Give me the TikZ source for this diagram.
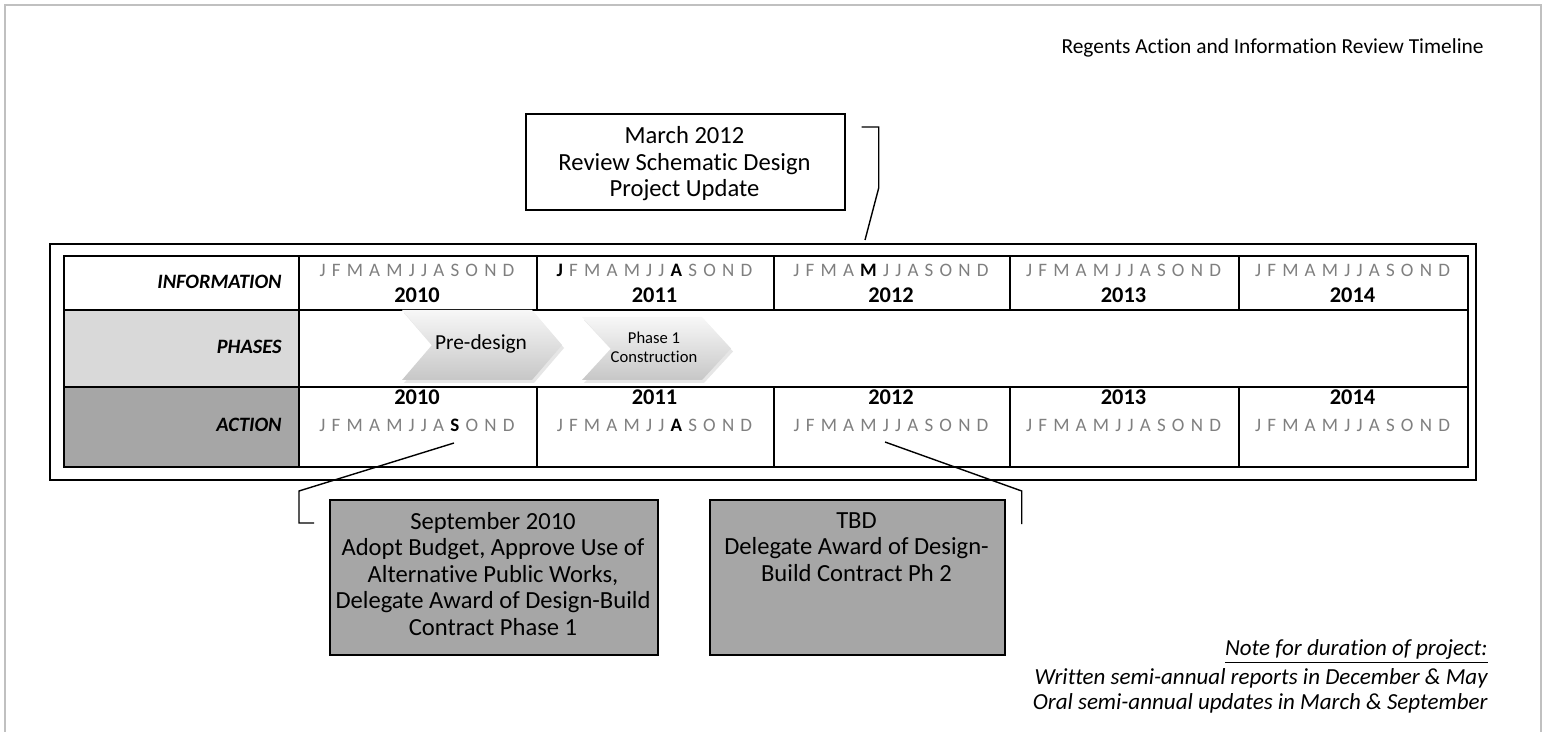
\documentclass[tikz,border=0pt]{standalone}
\usepackage{fontspec}
\setmainfont{Carlito}[Ligatures=CommonOff]
\usetikzlibrary{calc,shadows}
\definecolor{mgray}{HTML}{7F7F7F}
\definecolor{lgray}{HTML}{D9D9D9}
\definecolor{dgray}{HTML}{A6A6A6}
\definecolor{fgray}{HTML}{C0C0C0}
\newlength\mgap \setlength\mgap{3.1pt}
\newcommand\Ms{\hspace{\mgap}}
\newcommand\Mb[1]{\textcolor{black}{\bfseries #1}}
\newcommand\mrow[9]{#1\Ms#2\Ms#3\Ms#4\Ms#5\Ms#6\Ms#7\Ms#8\Ms#9\Ms\mrowii}
\newcommand\mrowii[3]{#1\Ms#2\Ms#3}
\tikzset{
  cell/.style={draw=black, line width=1pt, inner sep=0pt, anchor=north west},
  mon/.style={font=\fontsize{9.5}{11}\selectfont, text=mgray, inner sep=0pt},
  yr/.style={font=\fontsize{11.2}{13}\selectfont\bfseries, inner sep=0pt},
  lab/.style={font=\fontsize{10.2}{12}\selectfont\bfseries\itshape, anchor=east, inner sep=0pt},
  callbox/.style={draw=black, line width=0.85pt, inner sep=0pt, anchor=north west},
  calltext/.style={font=\fontsize{12.3}{13.25}\selectfont, align=center, inner sep=0pt},
  conn/.style={draw=black, line width=0.7pt},
  chev/.style={top color=black!3, bottom color=black!22, drop shadow={opacity=0.2, shadow xshift=1pt, shadow yshift=-1.5pt}},
  note/.style={font=\fontsize{11.5}{13}\selectfont\itshape, anchor=east, inner sep=0pt},
}
\begin{document}
\begin{tikzpicture}[x=0.5pt,y=-0.5pt]
\useasboundingbox (0,0) rectangle (1546,732);
% page frame
\draw[fgray, line width=1pt] (5,732) -- (5,5) -- (1541,5) -- (1541,732);
% title
\node[font=\fontsize{10.7}{12.5}\selectfont, anchor=east, inner sep=0pt] (title) at (1484,48) {Regents Action and Information Review Timeline};
% outer box
\node[draw=black, line width=1pt, inner sep=0pt, anchor=north west, minimum width=713pt, minimum height=118pt] (outer) at (49,243) {};
% information row
\node[cell, fill=white, minimum width=117.5pt, minimum height=27pt] (infoL) at (63,255) {};
\node[cell, minimum width=119pt, minimum height=27pt] (i10) at (298,255) {};
\node[cell, minimum width=118.5pt, minimum height=27pt] (i11) at (536,255) {};
\node[cell, minimum width=118pt, minimum height=27pt] (i12) at (773,255) {};
\node[cell, minimum width=114.5pt, minimum height=27pt] (i13) at (1009,255) {};
\node[cell, minimum width=114.5pt, minimum height=27pt] (i14) at (1238,255) {};
% phases row
\node[cell, fill=lgray, minimum width=117.5pt, minimum height=38.5pt] (phL) at (63,309) {};
\node[cell, minimum width=584.5pt, minimum height=38.5pt] (phC) at (298,309) {};
% action row
\node[cell, fill=dgray, minimum width=117.5pt, minimum height=40pt] (acL) at (63,386) {};
\node[cell, minimum width=119pt, minimum height=40pt] (a10) at (298,386) {};
\node[cell, minimum width=118.5pt, minimum height=40pt] (a11) at (536,386) {};
\node[cell, minimum width=118pt, minimum height=40pt] (a12) at (773,386) {};
\node[cell, minimum width=114.5pt, minimum height=40pt] (a13) at (1009,386) {};
\node[cell, minimum width=114.5pt, minimum height=40pt] (a14) at (1238,386) {};
% labels
\node[lab] (linfo) at (282,282) {INFORMATION};
\node[lab] (lphase) at (282,347) {PHASES};
\node[lab] (lact) at (282,425) {ACTION};
% information months and years
\node[mon] (im10) at (417,270) {\mrow JFMAMJJASOND};
\node[mon] (im11) at (654.5,270) {\mrow{\Mb J}FMAMJJ{\Mb A}SOND};
\node[mon] (im12) at (891,270) {\mrow JFMA{\Mb M}JJASOND};
\node[mon] (im13) at (1123.5,270) {\mrow JFMAMJJASOND};
\node[mon] (im14) at (1352.5,270) {\mrow JFMAMJJASOND};
\node[yr] (iy10) at (417,295) {2010};
\node[yr] (iy11) at (654.5,295) {2011};
\node[yr] (iy12) at (891,295) {2012};
\node[yr] (iy13) at (1123.5,295) {2013};
\node[yr] (iy14) at (1352.5,295) {2014};
% action years and months
\node[yr] (ay10) at (417,397) {2010};
\node[yr] (ay11) at (654.5,397) {2011};
\node[yr] (ay12) at (891,397) {2012};
\node[yr] (ay13) at (1123.5,397) {2013};
\node[yr] (ay14) at (1352.5,397) {2014};
\node[mon] (am10) at (417,425) {\mrow JFMAMJJA{\Mb S}OND};
\node[mon] (am11) at (654.5,425) {\mrow JFMAMJJ{\Mb A}SOND};
\node[mon] (am12) at (891,425) {\mrow JFMAMJJASOND};
\node[mon] (am13) at (1123.5,425) {\mrow JFMAMJJASOND};
\node[mon] (am14) at (1352.5,425) {\mrow JFMAMJJASOND};
% chevrons
\shade[chev] (402,310) -- (532,310) -- (562,345) -- (532,380) -- (402,380) -- (432,345) -- cycle;
\node[font=\fontsize{10.7}{12}\selectfont, inner sep=0pt] (pre) at (481,344) {Pre-design};
\shade[chev] (582,317) -- (702,317) -- (731,348.5) -- (702,380) -- (582,380) -- (611,348.5) -- cycle;
\node[font=\fontsize{8.3}{9.5}\selectfont, align=center, inner sep=0pt] (ph1) at (654,347) {Phase 1\\Construction};
% callout: March 2012
\node[callbox, fill=white, minimum width=159.5pt, minimum height=48pt] (mar) at (525,113) {};
\node[calltext] (martxt) at (684.5,164) {March 2012\\Review Schematic Design\\Project Update};
\coordinate (mpt) at (865,240);
\draw[conn] ($(mar.north east)+(16,14)$) -- ++(17,0) -- ++(0,61) -- (mpt);
% callout: September 2010
\node[callbox, fill=dgray, minimum width=164pt, minimum height=77.5pt] (sep) at (329,499) {};
\node[calltext, anchor=north] (septxt) at (493,512) {September 2010\\Adopt Budget, Approve Use of\\Alternative Public Works,\\Delegate Award of Design-Build\\Contract Phase 1};
\coordinate (spt) at (454,443);
\draw[conn] ($(sep.north west)+(-15,24)$) -- ++(-15,0) -- ++(0,-32) -- (spt);
% callout: TBD
\node[callbox, fill=dgray, minimum width=147.5pt, minimum height=77.5pt] (tbd) at (709,499) {};
\node[calltext, anchor=north] (tbdtxt) at (856.5,512) {TBD\\Delegate Award of Design-\\Build Contract Ph 2};
\coordinate (tpt) at (885,442);
\draw[conn] ($(tbd.north east)+(16,25)$) -- ++(0,-33) -- (tpt);
% note
\node[note] (n1) at (1488,651.5) {\underline{Note for duration of project:}};
\node[note] (n2) at (1488,678.5) {Written semi-annual reports in December \& May};
\node[note] (n3) at (1488,703.5) {Oral semi-annual updates in March \& September};
\end{tikzpicture}
\end{document}
